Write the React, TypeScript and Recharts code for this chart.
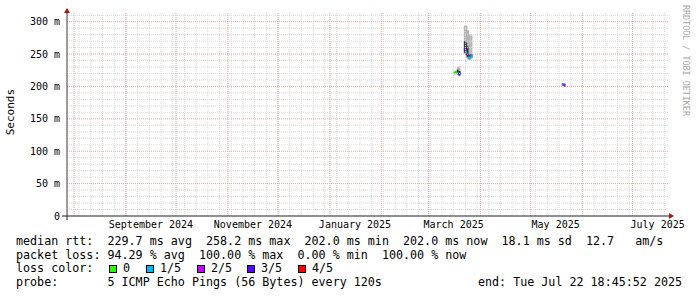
import { ComposedChart, Bar, XAxis, YAxis, ReferenceLine, ReferenceDot } from 'recharts';

const FONT = "'DejaVu Sans Mono', monospace";

// graph window: last 360 days up to the "end" stamp
const START = Date.UTC(2024, 6, 27, 18, 45, 52);
const END = Date.UTC(2025, 6, 22, 18, 45, 52);
const Y_MAX = 315;

// probe samples (ms); lo/hi = full smoke, q1/q3 = dense smoke
const sampleTimes = [
  '2025-03-16T18:00:00Z',
  '2025-03-17T16:00:00Z',
  '2025-03-18T14:00:00Z',
  '2025-03-19T12:00:00Z',
  '2025-03-22T18:00:00Z',
  '2025-03-23T16:00:00Z',
  '2025-03-24T14:00:00Z',
  '2025-03-25T12:00:00Z',
  '2025-03-26T16:00:00Z',
  '2025-05-20T08:00:00Z',
  '2025-05-21T06:00:00Z',
];
const rttMin = [219, 220, 218, 217, 250, 244, 242, 241, 243, 201, 200];
const rttQ1 = [220, 221, 219, 218, 252, 248, 246, 243, 245, 202, 201];
const rttQ3 = [222, 223, 226, 224, 270, 268, 262, 250, 250, 204, 204];
const rttMax = [223, 224, 230, 231, 294, 294, 287, 281, 279, 205, 205];
const rttMedian = [221, 222, 220, 219, 258, 253, 248, 244, 246, 203, 202];
const lossCount = [0, 0, 1, 3, 3, 1, 3, 1, 1, 1, 2];

const lossColors = ['#26ff00', '#00b8ff', '#c800ff', '#5e00ff', '#ff0000'];
const lossLabels = ['0', '1/5', '2/5', '3/5', '4/5'];

const monthLabelDates = ['2024-09-16', '2024-11-16', '2025-01-16', '2025-03-16', '2025-05-16', '2025-07-16'];
const monthLabels = ['September 2024', 'November 2024', 'January 2025', 'March 2025', 'May 2025', 'July 2025'];
const monthStarts = [
  '2024-08-01', '2024-09-01', '2024-10-01', '2024-11-01', '2024-12-01', '2025-01-01',
  '2025-02-01', '2025-03-01', '2025-04-01', '2025-05-01', '2025-06-01', '2025-07-01',
];
const yLabelTicks = [0, 50, 100, 150, 200, 250, 300];
const yMinorTicks = [
  10, 20, 30, 40, 60, 70, 80, 90, 110, 120, 130, 140, 160, 170, 180, 190,
  210, 220, 230, 240, 260, 270, 280, 290, 310,
];

const toTime = (s: string) => new Date(s.length === 10 ? s + 'T00:00:00Z' : s).getTime();

const data = sampleTimes.map((s, i) => ({
  t: toTime(s),
  lo: rttMin[i],
  q1: rttQ1[i],
  q3: rttQ3[i],
  hi: rttMax[i],
  med: rttMedian[i],
  loss: lossCount[i],
}));

const labelTicks = monthLabelDates.map(toTime);
const labelByTick: Record<number, string> = {};
labelTicks.forEach((t, i) => (labelByTick[t] = monthLabels[i]));

// weekly minor grid (Sundays)
const weekLines: number[] = [];
for (let t = toTime('2024-07-28'); t < END; t += 7 * 86400000) weekLines.push(t);

const MINOR = '#dadada';
const MAJOR = '#eea4a4';

function SmokeShape(props: any) {
  const { x, y, width, height, payload } = props;
  if (x == null || !payload) return null;
  const span = payload.hi - payload.lo;
  const toY = (v: number) => y + (height * (payload.hi - v)) / span;
  const cx = x + width / 2;
  const w = 2;
  const my = toY(payload.med);
  return (
    <g>
      <rect x={cx - w / 2} y={y} width={w} height={height} fill="#b3b3b3" />
      <rect x={cx - w / 2} y={toY(payload.q3)} width={w} height={toY(payload.q1) - toY(payload.q3)} fill="#2a2a2a" />
      <rect x={cx - w / 2} y={my - 1.5} width={w} height={3} fill={lossColors[payload.loss]} />
    </g>
  );
}

const legendRows = [
  'median rtt:  229.7 ms avg  258.2 ms max  202.0 ms min  202.0 ms now  18.1 ms sd  12.7   am/s',
  'packet loss: 94.29 % avg  100.00 % max  0.00 % min  100.00 % now',
];
const lossBoxX = [109, 146, 197, 247, 298];

const textStyle: React.CSSProperties = {
  position: 'absolute',
  fontFamily: FONT,
  fontSize: 11.7,
  lineHeight: '14px',
  whiteSpace: 'pre',
  color: '#000',
};

export default function App() {
  return (
    <div style={{ position: 'fixed', left: 0, top: 0, width: 697, height: 297, background: '#fff', overflow: 'hidden' }}>
      <ComposedChart
        width={697}
        height={297}
        data={data}
        margin={{ top: 12, right: 28, left: 7, bottom: 51 }}
      >
        {yMinorTicks.map((v) => (
          <ReferenceLine key={'ym' + v} y={v} stroke={MINOR} strokeDasharray="1 1" />
        ))}
        {weekLines.map((t) => (
          <ReferenceLine key={'xw' + t} x={t} stroke={MINOR} strokeDasharray="1 1" />
        ))}
        {yLabelTicks.slice(1).map((v) => (
          <ReferenceLine key={'yM' + v} y={v} stroke={MAJOR} strokeDasharray="1 1" />
        ))}
        {monthStarts.map((s) => (
          <ReferenceLine key={'xM' + s} x={toTime(s)} stroke={MAJOR} strokeDasharray="1 1" />
        ))}
        <XAxis
          dataKey="t"
          type="number"
          domain={[START, END]}
          allowDataOverflow
          ticks={labelTicks}
          interval={0}
          tickFormatter={(v: number) => labelByTick[v] ?? ''}
          tickLine={false}
          tickSize={0}
          tickMargin={5}
          axisLine={{ stroke: '#202020' }}
          tick={{ fontSize: 10, fill: '#000', fontFamily: FONT }}
          height={30}
        />
        <YAxis
          type="number"
          domain={[0, Y_MAX]}
          allowDataOverflow
          ticks={yLabelTicks}
          interval={0}
          tickFormatter={(v: number) => (v === 0 ? '0' : `${v} m`)}
          width={60}
          tickLine={false}
          tickSize={0}
          tickMargin={7}
          axisLine={{ stroke: '#404040' }}
          tick={{ fontSize: 10, fill: '#000', fontFamily: FONT }}
        />
        <Bar
          dataKey={(d: any) => [d.lo, d.hi]}
          barSize={2}
          shape={SmokeShape}
          isAnimationActive={false}
        />
        <ReferenceDot
          x={END}
          y={0}
          r={0}
          ifOverflow="visible"
          shape={(p: any) => (
            <path d={`M${p.cx},${p.cy - 3} L${p.cx + 5},${p.cy} L${p.cx},${p.cy + 3} Z`} fill="#a01818" />
          )}
        />
        <ReferenceDot
          x={START}
          y={Y_MAX}
          r={0}
          ifOverflow="visible"
          shape={(p: any) => (
            <path d={`M${p.cx - 3},${p.cy + 1} L${p.cx},${p.cy - 4} L${p.cx + 3},${p.cy + 1} Z`} fill="#a01818" />
          )}
        />
        <ReferenceDot
          x={START}
          y={0}
          r={0}
          ifOverflow="visible"
          shape={(p: any) => (
            <path d={`M${p.cx - 5},${p.cy} L${p.cx},${p.cy} M${p.cx},${p.cy} L${p.cx},${p.cy + 4}`} stroke="#202020" />
          )}
        />
      </ComposedChart>

      <div
        style={{
          position: 'absolute',
          left: 4,
          top: 89,
          fontFamily: FONT,
          fontSize: 11,
          writingMode: 'vertical-rl',
          transform: 'rotate(180deg)',
          color: '#000',
        }}
      >
        Seconds
      </div>
      <div
        style={{
          position: 'absolute',
          left: 681,
          top: 5,
          fontFamily: FONT,
          fontSize: 8.4,
          writingMode: 'vertical-rl',
          color: '#a8a8a8',
        }}
      >
        RRDTOOL / TOBI OETIKER
      </div>

      <div style={{ ...textStyle, left: 16, top: 234 }}>{legendRows[0]}</div>
      <div style={{ ...textStyle, left: 16, top: 247.6 }}>{legendRows[1]}</div>
      <div style={{ ...textStyle, left: 16, top: 261.3 }}>loss color:</div>
      {lossLabels.map((l, i) => (
        <div key={l}>
          <div
            style={{
              position: 'absolute',
              left: lossBoxX[i],
              top: 264.5,
              width: 6,
              height: 6,
              background: lossColors[i],
              border: '1px solid #000',
            }}
          />
          <div style={{ ...textStyle, left: lossBoxX[i] + 14, top: 261.3 }}>{l}</div>
        </div>
      ))}
      <div style={{ ...textStyle, left: 16, top: 275 }}>probe:       5 ICMP Echo Pings (56 Bytes) every 120s</div>
      <div style={{ ...textStyle, left: 478, top: 275 }}>end: Tue Jul 22 18:45:52 2025</div>
    </div>
  );
}
